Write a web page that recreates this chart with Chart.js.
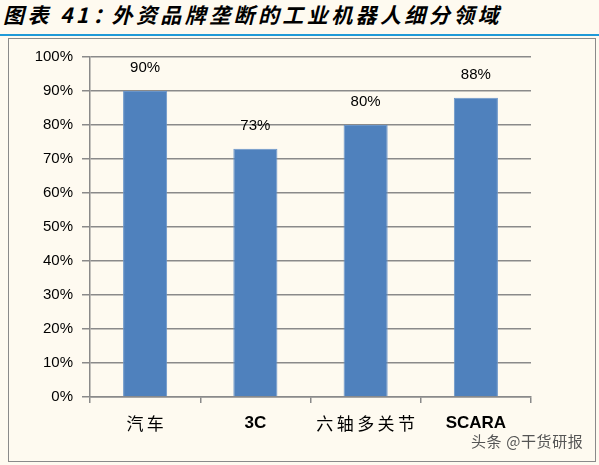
<!DOCTYPE html>
<html>
<head>
<meta charset="utf-8">
<script src="https://cdn.jsdelivr.net/npm/chart.js@4/dist/chart.umd.min.js"></script>
<style>
  html, body { margin: 0; padding: 0; background: #fefaf0; }
  #page { position: relative; width: 599px; height: 465px; overflow: hidden; background: #fefaf0; }
  #title {
    position: absolute; left: 3px; top: -1px;
    font-family: "Noto Sans CJK SC", sans-serif; font-weight: bold; font-style: italic;
    font-size: 21px; letter-spacing: 3.4px; color: #000; white-space: nowrap;
  }
  #title .colon { letter-spacing: -2px; margin-left: 1px; }
  #rule { position: absolute; left: 0; top: 34px; width: 599px; height: 2px; background: #1f9ad8; }
  #box { position: absolute; left: 8px; top: 38px; width: 588px; height: 424px; border: 1px solid #8a8a8a; box-sizing: border-box; }
  #mark {
    position: absolute; left: 471px; top: 430px;
    font-family: "Noto Sans CJK SC", sans-serif; font-size: 15px; letter-spacing: 0.6px; color: #555; white-space: nowrap;
  }
  canvas { position: absolute; left: 0; top: 0; }
</style>
</head>
<body>
<div id="page">
  <div id="title">图表 41<span class="colon">：</span>外资品牌垄断的工业机器人细分领域</div>
  <div id="rule"></div>
  <div id="box"></div>
  <canvas id="chart" width="599" height="465"></canvas>
  <div id="mark">头条 @干货研报</div>
</div>
<script>
const categories = ["汽车", "3C", "六轴多关节", "SCARA"];
const shares = [90, 73, 80, 88];
const yTicks = [0, 10, 20, 30, 40, 50, 60, 70, 80, 90, 100];

const gridColor = "#8a8a8a";
const isLatin = (s) => /^[A-Z0-9]+$/.test(s || "");

// value labels above each bar
const barLabels = {
  id: "barLabels",
  afterDatasetsDraw(chart) {
    const ctx = chart.ctx;
    const meta = chart.getDatasetMeta(0);
    ctx.save();
    ctx.font = "15px 'Liberation Sans', sans-serif";
    ctx.fillStyle = "#000";
    ctx.textAlign = "center";
    ctx.textBaseline = "middle";
    meta.data.forEach((bar, i) => {
      ctx.fillText(shares[i] + "%", bar.x, bar.y - 23);
    });
    ctx.restore();
  }
};

new Chart(document.getElementById("chart"), {
  type: "bar",
  data: {
    labels: categories,
    datasets: [{
      data: shares,
      backgroundColor: "#4f81bd",
      borderColor: "#6a95c9",
      borderWidth: 1,
      barPercentage: 0.4,
      categoryPercentage: 1
    }]
  },
  options: {
    responsive: false,
    animation: false,
    layout: { padding: { left: 0, right: 68, top: 57, bottom: 0 } },
    plugins: { legend: { display: false }, tooltip: { enabled: false } },
    scales: {
      x: {
        afterFit: (s) => { s.height = 68; },
        grid: {
          display: true,
          drawOnChartArea: false,
          offset: true,
          tickLength: 6,
          color: gridColor,
          lineWidth: 1.5
        },
        border: { color: gridColor, width: 1.5 },
        ticks: {
          color: "#000",
          padding: 10,
          // chinese labels are set wide in the original, so space the characters out
          callback: (v, i) => isLatin(categories[i]) ? categories[i] : categories[i].split("").join("\u2009"),
          font: (c) => {
            if (isLatin(categories[c.index])) {
              return { family: "'Liberation Sans Narrow', 'Liberation Sans', sans-serif", size: 17, weight: "bold" };
            }
            return { family: "'Noto Sans CJK SC', sans-serif", size: 17 };
          }
        }
      },
      y: {
        min: 0,
        max: 100,
        afterFit: (s) => { s.width = 90; },
        afterBuildTicks: (s) => { s.ticks = yTicks.map(v => ({ value: v })); },
        grid: { color: gridColor, lineWidth: 1.5, tickLength: 8 },
        border: { color: gridColor, width: 1.5 },
        ticks: {
          color: "#000",
          padding: 9,
          font: { family: "'Liberation Sans', sans-serif", size: 15 },
          callback: (v) => v + "%"
        }
      }
    }
  },
  plugins: [barLabels]
});
</script>
</body>
</html>
